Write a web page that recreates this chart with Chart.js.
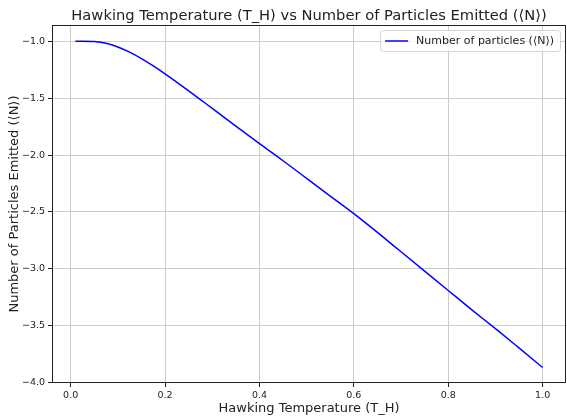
<!DOCTYPE html>
<html>
<head>
<meta charset="utf-8">
<script src="https://cdn.jsdelivr.net/npm/chart.js@4"></script>
<style>
  html, body { margin: 0; padding: 0; background: #fff; }
  #wrap { width: 567px; height: 416px; }
</style>
</head>
<body>
<div id="wrap"><canvas id="chart" width="567" height="416"></canvas></div>
<script>
// valores
const temperaturas = [0.01, 0.025, 0.05, 0.075, 0.1, 0.125, 0.15, 0.175, 0.2, 0.25, 0.3, 0.35, 0.4, 0.45, 0.5, 0.55, 0.6, 0.65, 0.7, 0.75, 0.8, 0.85, 0.9, 0.95, 1.0];
const particulas = [-1.0, -1.0, -1.003, -1.018, -1.05, -1.096, -1.152, -1.216, -1.286, -1.435, -1.59, -1.745, -1.90, -2.05, -2.205, -2.36, -2.515, -2.68, -2.85, -3.02, -3.19, -3.36, -3.525, -3.695, -3.867];
const ticksX = [0.0, 0.2, 0.4, 0.6, 0.8, 1.0];
const ticksY = [-4.0, -3.5, -3.0, -2.5, -2.0, -1.5, -1.0];

const titulo = 'Hawking Temperature (T_H) vs Number of Particles Emitted (\u27E8N\u27E9)';
const serieLabel = 'Number of particles (\u27E8N\u27E9)';
const fuente = "'DejaVu Sans', sans-serif";
const menos = v => v.toFixed(1).replace('-', '\u2212');

// título centrado sobre el área, marco completo y leyenda estilo matplotlib
const marcoYLeyenda = {
    id: 'marcoYLeyenda',
    afterDraw(chart) {
        const { ctx, chartArea: a } = chart;
        ctx.save();
        ctx.fillStyle = '#222';
        ctx.font = '14.7px ' + fuente;
        ctx.textAlign = 'center';
        ctx.textBaseline = 'alphabetic';
        ctx.fillText(titulo, (a.left + a.right) / 2, 20);

        ctx.strokeStyle = '#222';
        ctx.lineWidth = 1;
        ctx.strokeRect(a.left + 0.5, a.top + 0.5, a.right - a.left - 1, a.bottom - a.top - 1);

        // leyenda
        ctx.textAlign = 'left';
        ctx.font = '11px ' + fuente;
        const w = ctx.measureText(serieLabel).width + 42;
        const x0 = a.right - w - 6, y0 = a.top + 5, h = 21;
        ctx.fillStyle = 'rgba(255,255,255,0.8)';
        ctx.strokeStyle = '#d5d5d5';
        ctx.beginPath();
        ctx.roundRect(x0 + 0.5, y0 + 0.5, w, h, 3);
        ctx.fill();
        ctx.stroke();
        ctx.strokeStyle = '#0000ff';
        ctx.lineWidth = 1.5;
        ctx.beginPath();
        ctx.moveTo(x0 + 5, y0 + 11);
        ctx.lineTo(x0 + 28, y0 + 11);
        ctx.stroke();
        ctx.fillStyle = '#222';
        ctx.textBaseline = 'middle';
        ctx.fillText(serieLabel, x0 + 36, y0 + 11);
        ctx.restore();
    }
};

new Chart(document.getElementById('chart').getContext('2d'), {
    type: 'line',
    data: {
        datasets: [{
            label: serieLabel,
            data: temperaturas.map((t, i) => ({ x: t, y: particulas[i] })),
            borderColor: '#0000ff',
            borderWidth: 1.5,
            pointRadius: 0,
            cubicInterpolationMode: 'monotone',
            fill: false
        }]
    },
    plugins: [marcoYLeyenda],
    options: {
        responsive: false,
        animation: false,
        layout: { padding: { left: 0, right: 1, top: 25, bottom: 0 } },
        plugins: {
            legend: { display: false },
            tooltip: { enabled: false },
            title: { display: false }
        },
        scales: {
            x: {
                type: 'linear',
                min: -0.0395,
                max: 1.0495,
                afterBuildTicks: s => { s.ticks = ticksX.map(v => ({ value: v })); },
                afterFit: s => { s.height = 33; },
                grid: { color: '#cccccc', lineWidth: 1, tickLength: 4, tickColor: '#222' },
                border: { display: false },
                ticks: { color: '#222', font: { family: fuente, size: 9.5 }, padding: 3, maxRotation: 0, callback: v => menos(v) },
                title: { display: true, text: 'Hawking Temperature (T_H)', color: '#222', font: { family: fuente, size: 13 }, padding: { top: 1, bottom: 0 } }
            },
            y: {
                type: 'linear',
                min: -4.003,
                max: -0.857,
                afterBuildTicks: s => { s.ticks = ticksY.map(v => ({ value: v })); },
                afterFit: s => { s.width = 52; },
                grid: { color: '#cccccc', lineWidth: 1, tickLength: 4, tickColor: '#222' },
                border: { display: false },
                ticks: { color: '#222', font: { family: fuente, size: 9.5 }, padding: 3, callback: v => menos(v) },
                title: { display: true, text: 'Number of Particles Emitted (\u27E8N\u27E9)', color: '#222', font: { family: fuente, size: 13 }, padding: { top: 7, bottom: 0 } }
            }
        }
    }
});
</script>
</body>
</html>
